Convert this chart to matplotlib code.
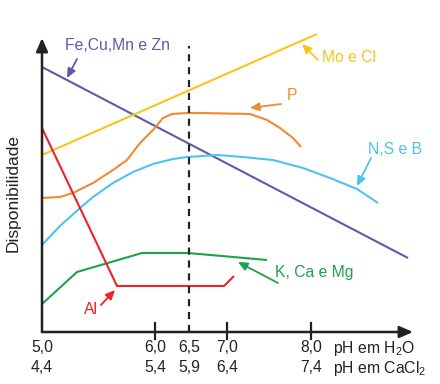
import matplotlib
matplotlib.use("Agg")
import matplotlib.pyplot as plt

plt.rcParams['font.family'] = ['Liberation Sans', 'DejaVu Sans']
plt.rcParams['mathtext.fontset'] = 'custom'
plt.rcParams['mathtext.rm'] = 'Liberation Sans'
plt.rcParams['mathtext.it'] = 'Liberation Sans'

# Horizontal position units (axis is not linear in pH); vertical: relative availability
tick_pos = [0, 113, 147, 185, 269]
tick_h2o = ["5,0", "6,0", "6,5", "7,0", "8,0"]
tick_cacl2 = ["4,4", "5,4", "5,9", "6,4", "7,4"]
marked_ticks = [113, 185, 269]
ph_ref = 147  # pH 6,5

fe_x = [0, 366]
fe_y = [265, 74]

mo_x = [0, 275]
mo_y = [177, 298]

p_x = [0, 18, 31, 51, 71, 85, 98, 111, 121, 130, 145, 158, 208, 225, 238, 251, 259]
p_y = [134, 135, 139, 149, 162, 172, 189, 202, 214, 218, 219, 219, 218, 212, 204, 194, 185]

nsb_x = [0, 18, 38, 51, 71, 91, 111, 131, 145, 161, 175, 201, 231, 261, 288, 315, 336]
nsb_y = [87, 106, 124, 135, 149, 160, 168, 173, 175, 176, 177, 175, 172, 164, 154, 143, 129]

kcm_x = [0, 35, 100, 146, 225]
kcm_y = [28, 60, 79, 79, 72]

al_x = [0, 75, 182, 192]
al_y = [204, 46, 46, 56]

col_fe = "#5a5ca8"
col_mo = "#f7c61a"
col_p = "#f08a2e"
col_nsb = "#4cc3f0"
col_kcm = "#1ea24e"
col_al = "#ec2426"

fig = plt.figure(figsize=(4.4, 3.84), dpi=100)
ax = fig.add_axes([42/440, 52/384, 371/440, 294/384])
ax.set_xlim(0, 371)
ax.set_ylim(0, 294)
ax.axis('off')

lw = 1.5
kw = dict(lw=lw, clip_on=False, solid_joinstyle='round', solid_capstyle='butt')
ax.plot(fe_x, fe_y, color=col_fe, **kw)
ax.plot(mo_x, mo_y, color=col_mo, **kw)
ax.plot(p_x, p_y, color=col_p, **kw)
ax.plot(nsb_x, nsb_y, color=col_nsb, **kw)
ax.plot(kcm_x, kcm_y, color=col_kcm, **kw)
ax.plot(al_x, al_y, color=col_al, **kw)

# dashed reference line
ax.plot([ph_ref, ph_ref], [0, 286], color="#222222", lw=1.6, ls=(0, (3.2, 2.6)), clip_on=False)

# axes arrows
ax.annotate("", xy=(371, 0), xytext=(0, 0),
            arrowprops=dict(arrowstyle='-|>,head_length=0.8,head_width=0.35', color='#222222', lw=1.8,
                            shrinkA=0, shrinkB=0), annotation_clip=False)
ax.annotate("", xy=(0, 294), xytext=(0, 0),
            arrowprops=dict(arrowstyle='-|>,head_length=0.8,head_width=0.35', color='#222222', lw=1.8,
                            shrinkA=0, shrinkB=0), annotation_clip=False)
for t in marked_ticks:
    ax.plot([t, t], [-7, 9], color='#222222', lw=1.6, clip_on=False)

fs = 11.3
for pos, a, b in zip(tick_pos, tick_h2o, tick_cacl2):
    ax.text(pos, -16, a, ha='center', va='center', fontsize=fs, color='#222222', clip_on=False)
    ax.text(pos, -36, b, ha='center', va='center', fontsize=fs, color='#222222', clip_on=False)
ax.text(291, -16, "pH em H$_2$O", ha='left', va='center', fontsize=fs, color='#222222')
ax.text(291, -36, "pH em CaCl$_2$", ha='left', va='center', fontsize=fs, color='#222222')

ax.text(-29, 139, "Disponibilidade", rotation=90, ha='center', va='center', fontsize=12.5, color='#222222')

def label(txt, xy_text, arrow_from, arrow_to, color):
    ax.text(xy_text[0], xy_text[1], txt, ha='left', va='center', fontsize=fs, color=color)
    ax.annotate("", xy=arrow_to, xytext=arrow_from,
                arrowprops=dict(arrowstyle='-|>,head_length=0.55,head_width=0.25', color=color, lw=1.3,
                                shrinkA=0, shrinkB=0), annotation_clip=False)

label("Fe,Cu,Mn e Zn", (23, 287), (35, 273), (25, 254), col_fe)
label("Mo e Cl", (280, 275), (276, 272), (260, 288), col_mo)
label("P", (245, 236), (239, 228), (208, 224), col_p)
label("N,S e B", (326, 182), (329, 174), (315, 146), col_nsb)
label("K, Ca e Mg", (233, 59), (236, 49), (196, 70), col_kcm)
label("Al", (42, 23), (59, 27), (73, 42), col_al)

fig.savefig("out.png", dpi=100)
